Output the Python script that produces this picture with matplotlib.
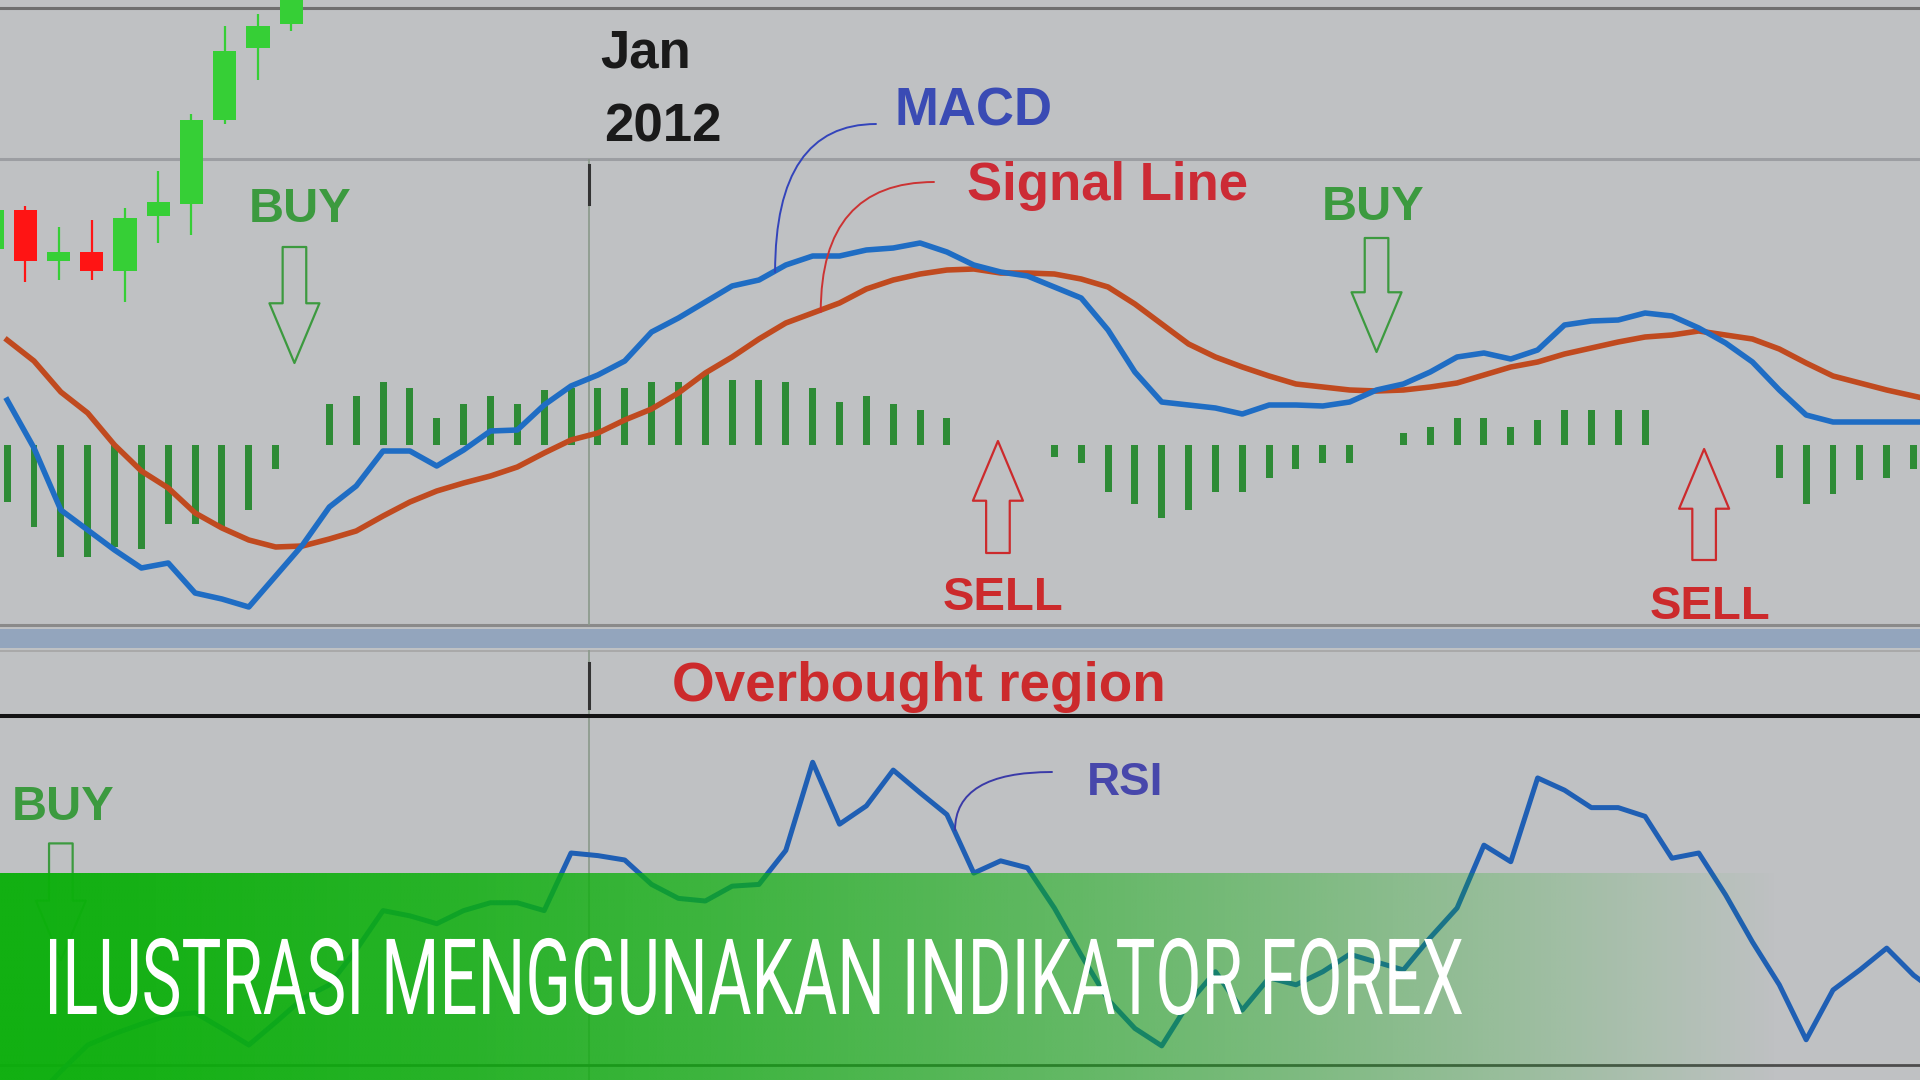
import numpy as np
import matplotlib
matplotlib.use('Agg')  # sin interfaz
import matplotlib.pyplot as plt
from matplotlib import font_manager
from matplotlib.patches import FancyArrowPatch
from matplotlib.patheffects import AbstractPathEffect
from matplotlib.transforms import Affine2D

# ============================================
# DATOS: velas (precio)
# ============================================
candle_open = [1.2661, 1.2700, 1.2649, 1.2658, 1.2639, 1.2694, 1.2706, 1.2790, 1.2862, 1.2886]
candle_close = [1.2700, 1.2649, 1.2658, 1.2639, 1.2692, 1.2708, 1.2790, 1.2859, 1.2884, 1.2920]
candle_high = [1.2705, 1.2704, 1.2683, 1.2690, 1.2702, 1.2739, 1.2796, 1.2884, 1.2896, 1.2930]
candle_low = [1.2655, 1.2628, 1.2630, 1.2630, 1.2608, 1.2667, 1.2675, 1.2786, 1.2830, 1.2879]

# ============================================
# DATOS: MACD (una muestra por barra)
# ============================================
macd_line = [4.5, -0.3, -6.5, -8.5, -10.5, -12.3, -11.8, -14.8, -15.4, -16.2,
             -13.1, -10.0, -6.2, -4.1, -0.6, -0.6, -2.1, -0.5, 1.4, 1.5,
             4.0, 5.9, 7.0, 8.4, 11.3, 12.7, 14.3, 15.9, 16.5, 18.0,
             18.9, 18.9, 19.5, 19.7, 20.2, 19.3, 18.0, 17.3, 16.9, 15.8,
             14.7, 11.5, 7.3, 4.3, 4.0, 3.7, 3.1, 4.0, 4.0, 3.9,
             4.3, 5.5, 6.1, 7.3, 8.8, 9.2, 8.6, 9.5, 12.0, 12.4,
             12.5, 13.2, 12.9, 11.7, 10.2, 8.3, 5.5, 3.0, 2.3, 2.3,
             2.3, 2.3, 2.3]
signal_line = [10.5, 8.4, 5.3, 3.2, 0.0, -2.6, -4.3, -6.8, -8.3, -9.5,
               -10.2, -10.1, -9.4, -8.6, -7.1, -5.7, -4.6, -3.8, -3.1, -2.2,
               -0.8, 0.5, 1.2, 2.5, 3.6, 5.2, 7.2, 8.8, 10.6, 12.2,
               13.2, 14.2, 15.6, 16.5, 17.1, 17.5, 17.6, 17.2, 17.2, 17.1,
               16.6, 15.8, 14.1, 12.1, 10.1, 8.8, 7.8, 6.9, 6.1, 5.8,
               5.5, 5.4, 5.5, 5.8, 6.2, 7.0, 7.8, 8.3, 9.1, 9.7,
               10.3, 10.8, 11.0, 11.4, 11.0, 10.6, 9.6, 8.2, 6.9, 6.2,
               5.5, 4.9, 4.3]
macd_hist = [-5.7, -8.2, -11.2, -11.2, -10.2, -10.4, -7.9, -7.9, -8.2, -6.5,
             -2.4, 0, 4.1, 4.9, 6.3, 5.7, 2.7, 4.1, 4.9, 4.1,
             5.5, 5.7, 5.7, 5.7, 6.3, 6.3, 7.2, 6.5, 6.5, 6.3,
             5.7, 4.3, 4.9, 4.1, 3.5, 2.7, 0, 0, 0, -1.2,
             -1.8, -4.7, -5.9, -7.3, -6.5, -4.7, -4.7, -3.3, -2.4, -1.8,
             -1.8, 0, 1.2, 1.8, 2.7, 2.7, 1.8, 2.5, 3.5, 3.5,
             3.5, 3.5, 0, 0, 0, 0, -3.3, -5.9, -4.9, -3.5,
             -3.3, -2.4, 0]

# ============================================
# DATOS: RSI
# ============================================
rsi_line = [22.6, 26.0, 29.3, 32.3, 33.6, 34.7, 35.7, 36.0, 34.2, 32.3,
            34.9, 37.6, 39.2, 43.2, 47.7, 47.1, 46.2, 47.7, 48.6, 48.6,
            47.7, 54.3, 54.0, 53.5, 50.7, 49.1, 48.8, 50.5, 50.7, 54.6,
            64.7, 57.6, 59.7, 63.8, 61.2, 58.7, 52.0, 53.4, 52.6, 48.0,
            42.6, 37.5, 34.2, 32.2, 37.1, 40.7, 36.3, 40.0, 39.2, 40.7,
            42.7, 41.8, 40.9, 44.6, 48.0, 55.2, 53.3, 62.9, 61.5, 59.5,
            59.5, 58.5, 53.7, 54.3, 49.5, 44.1, 39.2, 32.9, 38.6, 40.9,
            43.4, 40.3, 38.0]
rsi_overbought = 70
rsi_oversold = 30

jan_2012 = 21.67  # posición de la marca "Jan 2012" en el eje de barras

# señales: (posición, punta de la flecha, cola de la flecha)
buy_macd = [(10.7, 8.2, 19.8), (51.0, 9.3, 20.7)]
sell_macd = [(36.9, 0.4, -10.8), (63.2, -0.4, -11.5)]
buy_rsi = [(2.0, 42.0, 55.4)]

# ============================================
# ESTILO
# ============================================
W, H = 1920, 1080
BG = '#bfc1c3'
GREEN_TXT = '#3c9a3f'
RED_TXT = '#cc2a2c'

names = {f.name for f in font_manager.fontManager.ttflist}
label_font = 'Liberation Sans' if 'Liberation Sans' in names else 'DejaVu Sans'
banner_font = 'Roboto' if 'Roboto' in names else 'DejaVu Sans'


class Stretch(AbstractPathEffect):
    """Estira el texto en vertical (imita una fuente condensada)."""
    def __init__(self, sy):
        super().__init__()
        self.sy = sy

    def draw_path(self, renderer, gc, tpath, affine, rgbFace=None):
        renderer.draw_path(gc, tpath, Affine2D().scale(1, self.sy) + affine, rgbFace)


def band(top, bottom):
    return [0, 1 - bottom / H, 1, (bottom - top) / H]


def hollow_arrow(ax, x, tip, tail, color):
    ax.add_patch(FancyArrowPatch((x, tail), (x, tip),
                                 arrowstyle='simple,head_length=43,head_width=36,tail_width=17',
                                 mutation_scale=1, facecolor='none', edgecolor=color,
                                 lw=1.6, shrinkA=0, shrinkB=0, clip_on=False, zorder=4))


fig = plt.figure(figsize=(19.2, 10.8), dpi=100, facecolor=BG)

# fondo y marcos
ax_bg = fig.add_axes([0, 0, 1, 1], zorder=0)
ax_bg.set_xlim(0, W)
ax_bg.set_ylim(H, 0)
ax_bg.axis('off')
ax_bg.axhline(8, color='#6f6f6f', lw=2.2)
ax_bg.axhline(159, color='#9c9ea2', lw=2.2)
ax_bg.axhline(625, color='#8a8a8a', lw=2.2)
ax_bg.axhspan(629, 648, color='#93a5bd', lw=0)
ax_bg.axhline(651, color='#a9a9a9', lw=1.4)

# ============================================
# VELAS
# ============================================
ax_c = fig.add_axes(band(0, 310), zorder=2)
ax_c.axis('off')
ci = np.arange(len(candle_open))
o = np.array(candle_open)
c = np.array(candle_close)
cols = ['#36cf36' if cc >= oo else '#ff1414' for oo, cc in zip(o, c)]
ax_c.vlines(ci, candle_low, candle_high, colors=cols, lw=1.6)
ax_c.bar(ci, np.abs(c - o), bottom=np.minimum(o, c), width=0.7, color=cols)
ax_c.set_xlim(0.2406, 57.985)
ax_c.set_ylim(1.2600, 1.2910)

# ============================================
# MACD
# ============================================
xi = np.arange(len(macd_line))
ax_m = fig.add_axes(band(159, 625), zorder=1)
ax_m.axis('off')
ax_m.axvline(jan_2012, color='#8a998a', lw=1.2)
ax_m.axvline(jan_2012, ymin=0.903, ymax=0.987, color='#333333', lw=2.2)
ax_m.bar(xi, macd_hist, width=0.26, color='#2e8b36', zorder=2)
ax_m.plot(xi, signal_line, color='#c04a1f', lw=4.0, zorder=3)
ax_m.plot(xi, macd_line, color='#1f6dc4', lw=4.0, zorder=3)
ax_m.set_xlim(-0.266, 71.24)
ax_m.set_ylim(-18.0, 28.6)

for x, tip, tail in buy_macd:
    hollow_arrow(ax_m, x, tip, tail, '#3c9a3f')
for x, tip, tail in sell_macd:
    hollow_arrow(ax_m, x, tip, tail, '#cc2a2c')

# ============================================
# RSI
# ============================================
ax_r = fig.add_axes(band(650, 1080), zorder=1)
ax_r.axis('off')
ax_r.axvline(jan_2012, color='#8a998a', lw=1.2)
ax_r.axvline(jan_2012, ymin=0.865, ymax=0.970, color='#333333', lw=2.2)
ax_r.axhline(rsi_overbought, color='#141414', lw=2.9)
ax_r.axhline(rsi_oversold, color='#4d4d4d', lw=2.0)
ax_r.plot(np.arange(len(rsi_line)), rsi_line, color='#1f5fb4', lw=3.6, zorder=3)
ax_r.set_xlim(-0.266, 71.24)
ax_r.set_ylim(28.29, 77.56)
for x, tip, tail in buy_rsi:
    hollow_arrow(ax_r, x, tip, tail, '#3c9a3f')

# ============================================
# CAPA SUPERIOR: textos y banner
# ============================================
ax_t = fig.add_axes([0, 0, 1, 1], zorder=5)
ax_t.axis('off')

# líneas guía de las etiquetas
ax_m.annotate('', xy=(28.6, 17.3), xytext=(876, 124), textcoords=ax_t.transData,
              arrowprops=dict(arrowstyle='-', color='#3344bb', lw=1.4, shrinkA=0, shrinkB=0,
                              connectionstyle='angle3,angleA=180,angleB=90'))
ax_m.annotate('', xy=(30.3, 13.3), xytext=(934, 182), textcoords=ax_t.transData,
              arrowprops=dict(arrowstyle='-', color='#cc3333', lw=1.4, shrinkA=0, shrinkB=0,
                              connectionstyle='angle3,angleA=180,angleB=90'))
ax_r.annotate('', xy=(35.3, 56.9), xytext=(1052, 772), textcoords=ax_t.transData,
              arrowprops=dict(arrowstyle='-', color='#3a3aa8', lw=1.4, shrinkA=0, shrinkB=0,
                              connectionstyle='angle3,angleA=180,angleB=90'))

lab = dict(family=label_font, fontweight='bold', ha='left', va='baseline')
ax_t.text(600, 67, 'Jan', color='#1a1a1a', fontsize=38, **lab)
ax_t.text(604, 141, '2012', color='#1a1a1a', fontsize=38, **lab)
ax_t.text(894, 125, 'MACD', color='#3a4bb4', fontsize=38, **lab)
ax_t.text(967, 200, 'Signal Line', color='#cc2b35', fontsize=38, **lab)
ax_t.text(249, 222, 'BUY', color=GREEN_TXT, fontsize=35, **lab)
ax_t.text(1322, 220, 'BUY', color=GREEN_TXT, fontsize=35, **lab)
ax_t.text(12, 820, 'BUY', color=GREEN_TXT, fontsize=35, **lab)
ax_t.text(943, 610, 'SELL', color=RED_TXT, fontsize=34, **lab)
ax_t.text(1650, 619, 'SELL', color=RED_TXT, fontsize=34, **lab)
ax_t.text(672, 701, 'Overbought region', color=RED_TXT, fontsize=39.5, **lab)
ax_t.text(1087, 795, 'RSI', color='#4747ab', fontsize=33, **lab)

# banner verde con degradado
xs = np.linspace(0, W, 640)
alpha = np.clip(0.97 * (1 - np.clip(xs / 1780, 0, 1) ** 1.5), 0, 1)
grad = np.zeros((1, len(xs), 4))
grad[..., 0] = 12 / 255
grad[..., 1] = 176 / 255
grad[..., 2] = 12 / 255
grad[..., 3] = alpha
ax_t.imshow(grad, extent=(0, W, H, 873), aspect='auto', interpolation='bilinear', zorder=1)
ax_t.set_xlim(0, W)
ax_t.set_ylim(H, 0)

# título: se ajusta el tamaño al ancho y se estira en vertical
alto = 76
titulo = ax_t.text(44, 1014, 'ILUSTRASI MENGGUNAKAN INDIKATOR FOREX', color='white',
                   fontsize=alto, family=banner_font, ha='left', va='baseline', zorder=3)
renderer = fig.canvas.get_renderer()
ancho = titulo.get_window_extent(renderer).width
escala = 1420 / ancho
titulo.set_fontsize(alto * escala)
titulo.set_path_effects([Stretch(1 / escala)])

fig.savefig('out.png', dpi=100, facecolor=BG)
plt.close(fig)
